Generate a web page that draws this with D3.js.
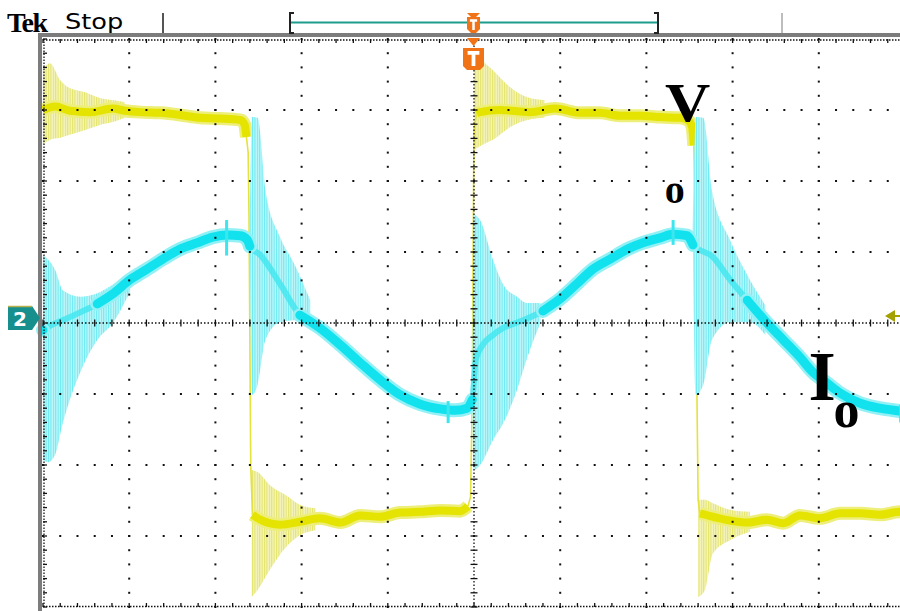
<!DOCTYPE html>
<html>
<head>
<meta charset="utf-8">
<script src="https://cdn.jsdelivr.net/npm/d3@7"></script>
<style>
html, body { margin: 0; padding: 0; background: #fff; overflow: hidden; }
svg { display: block; }
</style>
</head>
<body>
<script>
// Scope screen: 10 x 8 divisions
const width = 900;
const height = 611;
const plot = {left: 43, right: 905, top: 39, bottom: 607};

// Channel 1 (yellow, Vo) - [t (div), v (div)]
const vHigh1 = [[0.00, 3.00], [0.14, 3.05], [0.31, 2.99], [0.55, 2.97], [0.81, 3.02], [0.95, 2.99], [1.13, 2.97],
	[1.36, 2.96], [1.59, 2.93], [1.82, 2.89], [2.05, 2.88], [2.29, 2.86], [2.34, 2.79], [2.36, 2.62]];
const vFall1 = [[2.36, 2.62], [2.38, 2.40], [2.39, 1.50], [2.41, -2.00], [2.43, -2.70]];
const vLow1 = [[2.43, -2.70], [2.52, -2.77], [2.75, -2.84], [2.98, -2.80], [3.21, -2.75], [3.45, -2.81], [3.68, -2.71],
	[3.91, -2.73], [4.14, -2.67], [4.37, -2.66], [4.61, -2.64], [4.84, -2.65], [4.93, -2.58]];
const vRise1 = [[4.93, -2.58], [4.96, -2.45], [4.98, -1.08], [4.99, 1.03], [5.00, 2.72], [5.03, 2.95]];
const vHigh2 = [[5.03, 2.95], [5.07, 2.97], [5.30, 3.00], [5.65, 2.97], [5.94, 3.02], [6.23, 2.96], [6.46, 2.96],
	[6.69, 2.92], [6.93, 2.92], [7.16, 2.90], [7.39, 2.89], [7.48, 2.86], [7.53, 2.76], [7.55, 2.50]];
const vFall2 = [[7.55, 2.50], [7.565, 1.60], [7.575, 1.03], [7.587, -1.08], [7.60, -2.49], [7.62, -2.68]];
const vLow2 = [[7.62, -2.68], [7.68, -2.70], [8.17, -2.81], [8.40, -2.77], [8.59, -2.82], [8.78, -2.71], [9.01, -2.75],
	[9.25, -2.68], [9.48, -2.68], [9.71, -2.70], [9.94, -2.66], [10.0, -2.66]];

// ringing envelopes of channel 1 - [t, low, high]
const vRingA = [[0.00, 2.51, 3.56], [0.08, 2.58, 3.66], [0.20, 2.61, 3.42], [0.31, 2.65, 3.31], [0.49, 2.72, 3.25],
	[0.66, 2.79, 3.17], [0.81, 2.83, 3.14], [0.95, 2.89, 3.11]];
const vRingB = [[2.42, -3.86, -2.07], [2.49, -3.76, -2.10], [2.63, -3.48, -2.28], [2.81, -3.17, -2.42],
	[2.98, -2.99, -2.56], [3.16, -2.92, -2.61]];
const vRingC = [[5.00, 2.44, 3.89], [5.10, 2.51, 3.70], [5.22, 2.58, 3.56], [5.42, 2.76, 3.32], [5.62, 2.86, 3.18],
	[5.82, 2.89, 3.14]];
const vRingD = [[7.60, -3.86, -2.49], [7.68, -3.76, -2.49], [7.77, -3.25, -2.54], [7.97, -3.06, -2.63],
	[8.20, -2.94, -2.66]];

// Channel 2 (cyan, Io)
const iTrace = [[0.00, -0.10], [0.08, -0.04], [0.23, 0.04], [0.43, 0.15], [0.63, 0.27], [0.81, 0.41], [1.01, 0.61],
	[1.21, 0.76], [1.39, 0.90], [1.59, 1.04], [1.79, 1.13], [1.97, 1.21], [2.14, 1.24], [2.29, 1.23], [2.37, 1.17],
	[2.40, 1.08], [2.52, 0.96], [2.75, 0.55], [2.98, 0.11], [3.21, -0.07], [3.45, -0.31], [3.68, -0.56], [3.91, -0.80],
	[4.14, -1.01], [4.37, -1.14], [4.61, -1.21], [4.78, -1.23], [4.92, -1.20], [4.98, -1.08], [5.02, -0.52],
	[5.10, -0.31], [5.22, -0.17], [5.34, -0.07], [5.53, 0.02], [5.80, 0.17], [6.00, 0.34], [6.20, 0.56], [6.38, 0.76],
	[6.58, 0.90], [6.78, 1.04], [6.96, 1.13], [7.16, 1.20], [7.31, 1.25], [7.47, 1.23], [7.54, 1.10], [7.77, 0.93],
	[7.97, 0.61], [8.17, 0.32], [8.40, 0.00], [8.59, -0.24], [8.78, -0.48], [8.93, -0.69], [9.10, -0.85],
	[9.25, -0.99], [9.48, -1.13], [9.71, -1.20], [9.94, -1.24], [10.0, -1.25]];
// stretches of the trace that are buried in switching noise
const iNoisy = [[0.00, 0.55], [2.41, 2.80], [4.985, 5.60], [7.55, 7.98]];

const iRingA = [[0.00, -1.93, 0.96], [0.06, -1.96, 0.89], [0.14, -1.86, 0.75], [0.23, -1.41, 0.46], [0.43, -0.70, 0.37],
	[0.63, -0.24, 0.42], [0.81, 0.00, 0.54], [1.01, 0.44, 0.68]];
const iRingB = [[2.40, 1.03, 1.23], [2.425, -1.01, 2.90], [2.49, -0.87, 2.89], [2.58, -0.24, 1.87], [2.75, 0.01, 1.21],
	[2.92, 0.04, 0.82], [3.10, -0.10, 0.32]];
const iRingC = [[4.98, -1.25, -1.01], [5.00, -2.07, 1.52], [5.07, -2.00, 1.45], [5.22, -1.65, 0.89], [5.34, -1.41, 0.54],
	[5.50, -0.94, 0.37], [5.62, -0.48, 0.28], [5.77, 0.00, 0.28]];
const iRingD = [[7.54, 1.00, 1.23], [7.575, -1.01, 2.90], [7.66, -0.87, 2.89], [7.76, -0.24, 1.87], [7.97, 0.01, 1.17],
	[8.20, 0.01, 0.61], [8.38, -0.17, 0.25]];
const iGlitch = [[2.13, 0.95, 1.45], [4.70, -1.41, -1.10], [7.31, 1.10, 1.45], [9.95, -1.40, -1.15]];

const x = d3.scaleLinear().domain([0, 10]).range([plot.left, plot.right]);
const y = d3.scaleLinear().domain([-4, 4]).range([plot.bottom, plot.top]);

const svg = d3.select('body').append('svg')
	.attr('width', width).attr('height', height)
	.attr('viewBox', [0, 0, width, height]);

svg.append('rect').attr('width', width).attr('height', height).attr('fill', '#fff');

const defs = svg.append('defs');
function stripes(id, bg, fg) {
	const p = defs.append('pattern').attr('id', id)
		.attr('patternUnits', 'userSpaceOnUse').attr('width', 2.4).attr('height', 6);
	p.append('rect').attr('width', 2.4).attr('height', 6).attr('fill', bg);
	p.append('rect').attr('width', 1.1).attr('height', 6).attr('fill', fg);
}
stripes('ringY', '#f5f5c4', '#e4e46a');
stripes('ringC', '#c4f7fa', '#6deaf1');

const line = d3.line().x(d => x(d[0])).y(d => y(d[1])).curve(d3.curveMonotoneX);
const lineLin = d3.line().x(d => x(d[0])).y(d => y(d[1]));
const band = d3.area().x(d => x(d[0])).y0(d => y(d[1])).y1(d => y(d[2])).curve(d3.curveMonotoneX);

const traces = svg.append('g');

// yellow channel
[vRingA, vRingB, vRingC, vRingD].forEach(r => {
	traces.append('path').attr('d', band(r)).attr('fill', 'url(#ringY)');
});
[vFall1, vRise1, vFall2].forEach(e => {
	traces.append('path').attr('d', lineLin(e)).attr('fill', 'none')
		.attr('stroke', '#e4e23c').attr('stroke-width', 1.6);
});
[vHigh1, vLow1, vHigh2, vLow2].forEach(s => {
	traces.append('path').attr('d', line(s)).attr('fill', 'none')
		.attr('stroke', '#eeee7a').attr('stroke-width', 13).attr('stroke-linejoin', 'round');
	traces.append('path').attr('d', line(s)).attr('fill', 'none')
		.attr('stroke', '#e4e400').attr('stroke-width', 8).attr('stroke-linejoin', 'round');
});

// cyan channel
[iRingA, iRingB, iRingC, iRingD].forEach(r => {
	traces.append('path').attr('d', band(r)).attr('fill', 'url(#ringC)');
});
const noisy = t => iNoisy.some(([a, b]) => t > a && t < b);
traces.append('path').attr('d', line(iTrace)).attr('fill', 'none')
	.attr('stroke', '#3fe6ef').attr('stroke-width', 6).attr('opacity', 0.8);
const quiet = d3.line().defined(d => !noisy(d[0]))
	.x(d => x(d[0])).y(d => y(d[1])).curve(d3.curveMonotoneX);
traces.append('path').attr('d', quiet(iTrace)).attr('fill', 'none')
	.attr('stroke', '#93f1f6').attr('stroke-width', 14)
	.attr('stroke-linejoin', 'round').attr('stroke-linecap', 'round');
traces.append('path').attr('d', quiet(iTrace)).attr('fill', 'none')
	.attr('stroke', '#12e2ee').attr('stroke-width', 9)
	.attr('stroke-linejoin', 'round').attr('stroke-linecap', 'round');
traces.selectAll('line.glitch').data(iGlitch).join('line')
	.attr('x1', d => x(d[0])).attr('x2', d => x(d[0]))
	.attr('y1', d => y(d[1])).attr('y2', d => y(d[2]))
	.attr('stroke', '#3ce6ee').attr('stroke-width', 3);

// graticule
const grid = svg.append('g').attr('fill', '#111');
const minorY = d3.range(-20, 21).map(k => k * 0.2);
const minorX = d3.range(0, 51).map(k => k * 0.2);
d3.range(1, 10).filter(i => i !== 5).forEach(i => {
	grid.selectAll(null).data(minorY).join('rect')
		.attr('x', x(i) - 1).attr('y', d => y(d) - 1).attr('width', 2).attr('height', 2);
});
d3.range(-3, 4).filter(j => j !== 0).forEach(j => {
	grid.selectAll(null).data(minorX).join('rect')
		.attr('x', d => x(d) - 1).attr('y', y(j) - 1).attr('width', 2).attr('height', 2);
});

// centre lines with minor ticks
const ticks = svg.append('g').attr('stroke', '#111').attr('stroke-width', 1.3);
ticks.append('line').attr('x1', x(0)).attr('x2', x(10)).attr('y1', y(0)).attr('y2', y(0))
	.attr('stroke-dasharray', '1.5,2');
ticks.append('line').attr('x1', x(5)).attr('x2', x(5)).attr('y1', y(-4)).attr('y2', y(4))
	.attr('stroke-dasharray', '1.5,2');
ticks.selectAll(null).data(minorX).join('line')
	.attr('x1', d => x(d)).attr('x2', d => x(d))
	.attr('y1', y(0) - 3.5).attr('y2', y(0) + 3.5);
ticks.selectAll(null).data(minorY).join('line')
	.attr('x1', x(5) - 3.5).attr('x2', x(5) + 3.5)
	.attr('y1', d => y(d)).attr('y2', d => y(d));

// screen edges
ticks.append('line').attr('x1', x(0)).attr('x2', x(10)).attr('y1', y(4) + 1).attr('y2', y(4) + 1)
	.attr('stroke-dasharray', '1.5,1.5');
ticks.append('line').attr('x1', x(0)).attr('x2', x(10)).attr('y1', y(-4) - 0.5).attr('y2', y(-4) - 0.5)
	.attr('stroke-dasharray', '1.5,1.5');
ticks.append('line').attr('x1', x(0) + 1).attr('x2', x(0) + 1).attr('y1', y(-4)).attr('y2', y(4))
	.attr('stroke-dasharray', '1.5,1.5');
ticks.selectAll(null).data(minorX).join('line')
	.attr('x1', d => x(d)).attr('x2', d => x(d)).attr('y1', y(4)).attr('y2', y(4) + 4);
ticks.selectAll(null).data(minorX).join('line')
	.attr('x1', d => x(d)).attr('x2', d => x(d)).attr('y1', y(-4)).attr('y2', y(-4) - 4);
ticks.selectAll(null).data(minorY).join('line')
	.attr('x1', x(0)).attr('x2', x(0) + 4).attr('y1', d => y(d)).attr('y2', d => y(d));

// grey frame top/left
svg.append('rect').attr('x', 38).attr('y', 33).attr('width', width - 38).attr('height', 4).attr('fill', '#7c7c7c');
svg.append('rect').attr('x', 38).attr('y', 33).attr('width', 4).attr('height', height - 33).attr('fill', '#7c7c7c');

// header
svg.append('text').attr('x', 7).attr('y', 32).text('Tek')
	.attr('font-family', 'Liberation Serif').attr('font-weight', 'bold').attr('font-size', 28)
	.attr('letter-spacing', -1.5);
svg.append('text').attr('x', 0).attr('y', 29).text('Stop')
	.attr('font-family', 'DejaVu Sans').attr('font-size', 21)
	.attr('transform', 'translate(65,0) scale(1.22,1)');
svg.append('line').attr('x1', 163).attr('x2', 163).attr('y1', 13).attr('y2', 33)
	.attr('stroke', '#555').attr('stroke-width', 2);
svg.append('line').attr('x1', 782).attr('x2', 782).attr('y1', 13).attr('y2', 33)
	.attr('stroke', '#bdbdbd').attr('stroke-width', 2);
svg.append('line').attr('x1', 290).attr('x2', 657).attr('y1', 22.5).attr('y2', 22.5)
	.attr('stroke', '#1e9c8c').attr('stroke-width', 2);
svg.append('path').attr('d', 'M294,13H290V33H294').attr('fill', 'none').attr('stroke', '#222').attr('stroke-width', 2);
svg.append('path').attr('d', 'M654,13H658V33H654').attr('fill', 'none').attr('stroke', '#222').attr('stroke-width', 2);

// trigger markers
const orange = '#f07318';
function trig(cx, top, w, h) {
	const g = svg.append('g');
	g.append('path')
		.attr('d', `M${cx - w / 2},${top}H${cx + w / 2}V${top + h - 4}L${cx + w / 2 - 4},${top + h}H${cx - w / 2 + 4}L${cx - w / 2},${top + h - 4}Z`)
		.attr('fill', orange);
	g.append('path')
		.attr('d', `M${cx - w * 0.28},${top + h * 0.22}H${cx + w * 0.28}M${cx},${top + h * 0.22}V${top + h * 0.82}`)
		.attr('stroke', '#fff').attr('stroke-width', Math.max(2.5, w * 0.18)).attr('fill', 'none');
}
svg.append('path').attr('d', 'M467,13H480L476,17H471Z').attr('fill', orange);
trig(473.5, 17, 13, 16);
svg.append('path').attr('d', 'M467,38H480L473.5,46Z').attr('fill', orange);
trig(473.5, 48, 21, 22);

// channel 2 ground marker
svg.append('path').attr('d', 'M8,306H32L40,318L32,330H8Z').attr('fill', '#168f8d');
svg.append('line').attr('x1', 8).attr('x2', 32).attr('y1', 306.5).attr('y2', 306.5).attr('stroke', '#b8b04a').attr('stroke-width', 1.5);
svg.append('text').attr('x', 20).attr('y', 326).attr('text-anchor', 'middle').text('2')
	.attr('font-family', 'DejaVu Sans').attr('font-weight', 'bold').attr('font-size', 20).attr('fill', '#fff');

// trigger level arrow (right)
svg.append('path').attr('d', 'M885,316L895,310V322Z').attr('fill', '#a3a000');
svg.append('line').attr('x1', 893).attr('x2', 900).attr('y1', 316).attr('y2', 316).attr('stroke', '#a3a000').attr('stroke-width', 2);

// annotations
const serif = 'Liberation Serif';
svg.append('text').attr('x', x(7.48)).attr('y', y(2.85)).attr('text-anchor', 'middle').text('V')
	.attr('font-family', serif).attr('font-weight', 'bold').attr('font-size', 56)
	.attr('transform', `translate(${x(7.48)},0) scale(1.12,1) translate(${-x(7.48)},0)`);
svg.append('text').attr('x', x(7.33)).attr('y', y(1.69)).attr('text-anchor', 'middle').text('o')
	.attr('font-family', serif).attr('font-weight', 'bold').attr('font-size', 40);
svg.append('text').attr('x', x(9.04)).attr('y', y(-1.08)).attr('text-anchor', 'middle').text('I')
	.attr('font-family', serif).attr('font-weight', 'bold').attr('font-size', 70);
svg.append('text').attr('x', x(9.32)).attr('y', y(-1.46)).attr('text-anchor', 'middle').text('o')
	.attr('font-family', serif).attr('font-weight', 'bold').attr('font-size', 52);
</script>
</body>
</html>
